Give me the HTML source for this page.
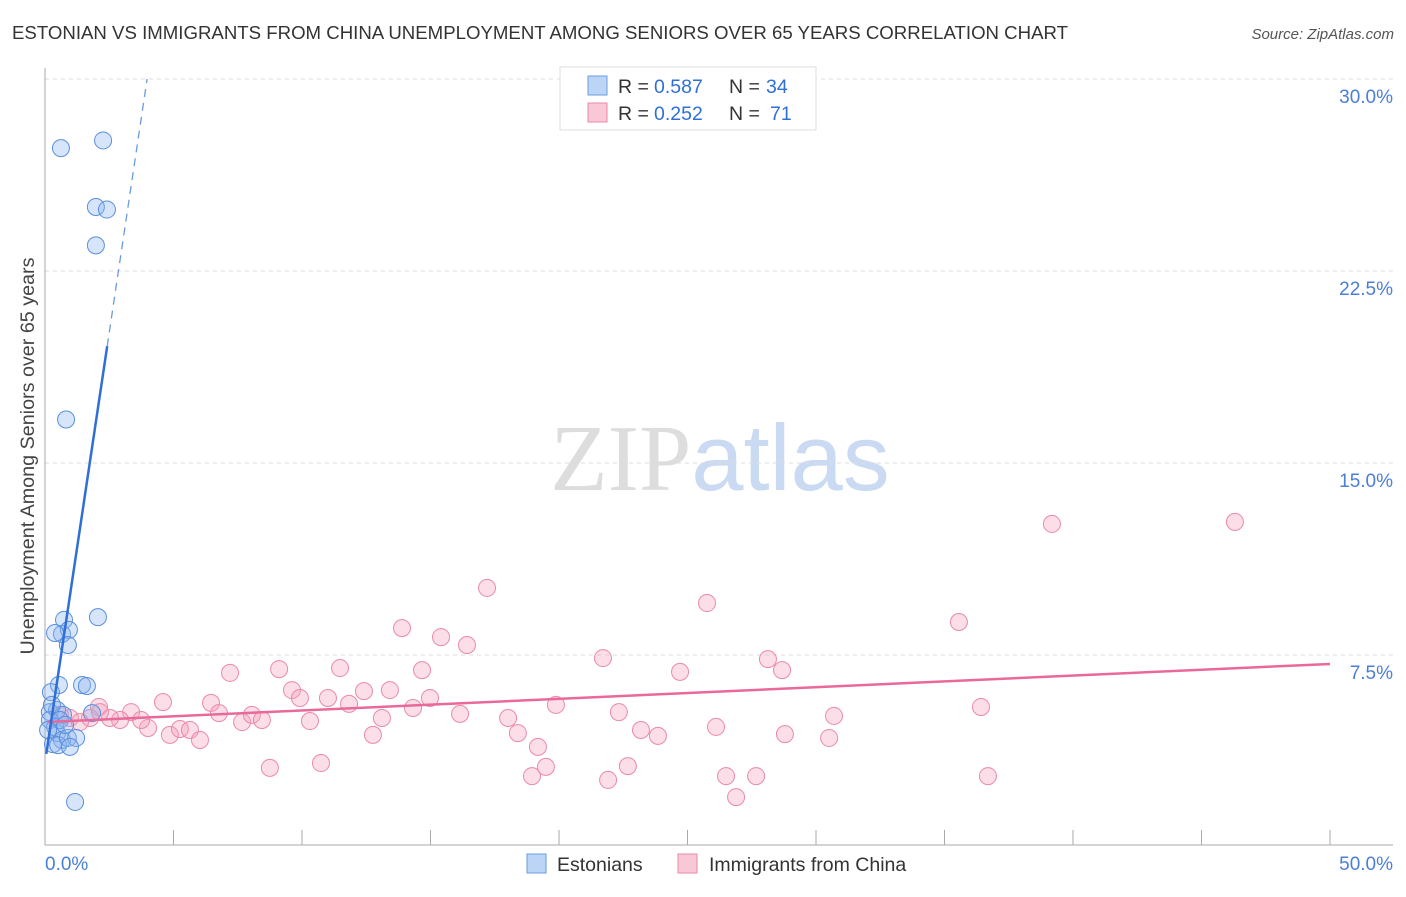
<!DOCTYPE html>
<html><head><meta charset="utf-8"><style>
body{margin:0;background:#fff;font-family:"Liberation Sans",sans-serif;}
svg text{font-family:"Liberation Sans",sans-serif;}
</style></head><body>
<svg id="chart" width="1406" height="892" xmlns="http://www.w3.org/2000/svg">
<text x="12" y="39" font-size="18.6" fill="#333" textLength="1056" lengthAdjust="spacingAndGlyphs">ESTONIAN VS IMMIGRANTS FROM CHINA UNEMPLOYMENT AMONG SENIORS OVER 65 YEARS CORRELATION CHART</text>
<text x="1394" y="39" font-size="15" fill="#555" text-anchor="end" font-style="italic">Source: ZipAtlas.com</text>
<text transform="translate(34,456) rotate(-90)" font-size="19" fill="#444" text-anchor="middle" textLength="397" lengthAdjust="spacingAndGlyphs">Unemployment Among Seniors over 65 years</text>
<text x="720" y="490" font-size="94" text-anchor="middle"><tspan fill="#ddd" font-family="Liberation Serif">ZIP</tspan><tspan fill="#c9daf2">atlas</tspan></text>
<g id="grid"></g><g id="axes"></g><g id="marks"></g>
<g>
<rect x="560" y="67" width="256" height="63" fill="#fff" stroke="#ddd"/>
<rect x="588" y="76" width="19" height="19" fill="#bcd4f5" stroke="#6a9be0"/>
<rect x="588" y="103" width="19" height="19" fill="#f9c8d6" stroke="#eb8aa8"/>
<text x="618" y="93" font-size="19.5" fill="#333">R =</text><text x="654" y="93" font-size="19.5" fill="#2f6fd6">0.587</text>
<text x="729" y="93" font-size="19.5" fill="#333">N =</text><text x="766" y="93" font-size="19.5" fill="#2f6fd6">34</text>
<text x="618" y="120" font-size="19.5" fill="#333">R =</text><text x="654" y="120" font-size="19.5" fill="#2f6fd6">0.252</text>
<text x="729" y="120" font-size="19.5" fill="#333">N =</text><text x="770" y="120" font-size="19.5" fill="#2f6fd6">71</text>
</g>
<g>
<rect x="527" y="854" width="19" height="19" fill="#bcd4f5" stroke="#6a9be0"/>
<text x="557" y="871" font-size="19.5" fill="#333">Estonians</text>
<rect x="678" y="854" width="19" height="19" fill="#f9c8d6" stroke="#eb8aa8"/>
<text x="709" y="871" font-size="19.5" fill="#333">Immigrants from China</text>
</g>
</svg>
<script>
const yTicks=[7.5,15,22.5,30];
const yTickLabels=["7.5%","15.0%","22.5%","30.0%"];
const xEdgeLabels=["0.0%","50.0%"];
const blueX=[0.62,2.26,1.98,2.41,1.98,0.82,0.74,2.06,0.66,0.93,0.39,0.89,0.54,1.44,1.63,0.23,0.19,0.47,0.70,0.19,0.39,0.47,0.66,0.31,0.51,0.89,1.21,0.97,1.17,1.83,0.27,0.58,0.12,0.78];
const blueY=[27.3,27.6,25.0,24.9,23.5,16.7,8.87,8.98,8.32,8.48,8.36,7.89,6.33,6.33,6.29,6.05,5.27,5.35,5.16,4.96,4.69,4.45,4.18,4.02,3.98,4.26,4.26,3.91,1.76,5.23,5.55,4.96,4.57,4.77];
const pinkX=[4.59,3.35,2.92,2.10,1.75,0.97,2.53,4.01,3.74,4.86,5.25,5.64,6.03,6.46,6.77,7.20,7.67,8.05,8.44,8.75,9.11,9.61,9.92,10.31,10.74,11.01,11.48,11.83,12.41,12.76,13.11,13.42,13.89,14.32,14.67,14.98,15.41,16.15,16.42,17.20,18.02,18.40,18.95,19.18,19.49,19.88,21.71,21.91,22.33,22.68,23.19,23.85,24.71,25.76,26.11,26.50,26.89,27.67,28.13,28.68,28.79,30.51,30.70,35.56,36.42,36.69,39.18,46.30,2.14,0.58,1.36];
const pinkY=[5.66,5.27,4.96,5.47,5.04,5.04,5.04,4.65,4.96,4.38,4.61,4.57,4.18,5.63,5.23,6.80,4.88,5.16,4.96,3.09,6.95,6.13,5.82,4.92,3.28,5.82,6.99,5.59,6.09,4.38,5.04,6.13,8.55,5.43,6.91,5.82,8.20,5.20,7.89,10.12,5.04,4.45,2.77,3.91,3.13,5.55,7.38,2.62,5.27,3.16,4.57,4.34,6.84,9.53,4.69,2.77,1.95,2.77,7.34,6.91,4.41,4.26,5.12,8.79,5.47,2.77,12.62,12.70,5.27,5.16,4.88];
const blueFit=[3.3,6.72]; // intercept, slope
const pinkFit=[4.88,0.0454];
const NS="http://www.w3.org/2000/svg";
const X=v=>45+v*25.7, Y=v=>847-v*25.6;
function mk(tag,attrs,parent){const e=document.createElementNS(NS,tag);for(const k in attrs)e.setAttribute(k,attrs[k]);document.getElementById(parent).appendChild(e);return e;}
yTicks.forEach((t,i)=>{
 const g=mk('line',{x1:45,x2:1393,y1:Y(t),y2:Y(t),stroke:'#ddd','stroke-dasharray':'4,4'},'grid');
 
 
 const l=mk('text',{x:1393,y:Y(t)+24,'font-size':19,fill:'#4a7fd8','text-anchor':'end'},'grid');l.textContent=yTickLabels[i];
 
 
});
const ax=mk('line',{x1:45,x2:45,y1:68,y2:845,stroke:'#aaa'},'axes');


const bx=mk('line',{x1:45,x2:1393,y1:845,y2:845,stroke:'#aaa'},'axes');


for(let v=0;v<=50;v+=5){const t=mk('line',{x1:X(v),x2:X(v),y1:830,y2:845,stroke:'#aaa'},'axes');
 
 }
[[0,'start'],[50,'end']].forEach((p,i)=>{const t=mk('text',{x:i?1393:45,y:870,'font-size':19,fill:'#4a7fd8','text-anchor':p[1]},'axes');t.textContent=xEdgeLabels[i];
 
 });
pinkX.forEach((x,i)=>{const c=mk('circle',{cx:X(x),cy:Y(pinkY[i]),r:8.5,fill:'rgba(244,160,188,0.35)',stroke:'#eb8aa8','stroke-width':1},'marks');
 
 });
blueX.forEach((x,i)=>{const c=mk('circle',{cx:X(x),cy:Y(blueY[i]),r:8.5,fill:'rgba(140,180,240,0.35)',stroke:'#5b8fdc','stroke-width':1},'marks');
 
 });
const pl=mk('line',{x1:X(0.1),y1:Y(pinkFit[0]+pinkFit[1]*0.1),x2:X(50),y2:Y(pinkFit[0]+pinkFit[1]*50),stroke:'#e8699a','stroke-width':2.5},'marks');


const xs=2.42, xe=(30-blueFit[0])/blueFit[1];
const b1=mk('line',{x1:X(0.05),y1:Y(blueFit[0]+blueFit[1]*0.05),x2:X(xs),y2:Y(blueFit[0]+blueFit[1]*xs),stroke:'#2f6fd6','stroke-width':2.5},'marks');


const b2=mk('line',{x1:X(xs),y1:Y(blueFit[0]+blueFit[1]*xs),x2:X(xe),y2:Y(30),stroke:'#6a9be0','stroke-width':1.3,'stroke-dasharray':'8,6'},'marks');


</script>
</body></html>
